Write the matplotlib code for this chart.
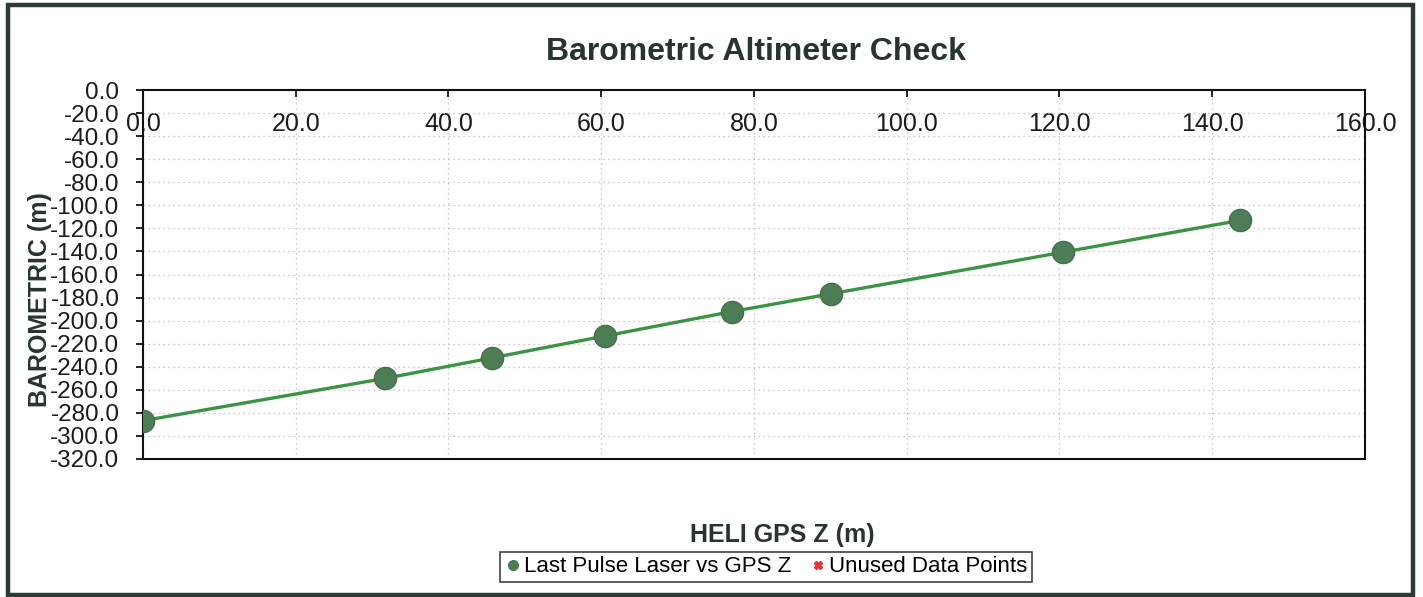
import matplotlib.pyplot as plt
from matplotlib.patches import Rectangle

# values
heli_gps_z = [0.0, 31.7, 45.7, 60.5, 77.1, 90.1, 120.5, 143.7]
barometric = [-286.8, -250.1, -232.3, -213.3, -192.2, -176.7, -140.6, -113.0]
unused_x = []
unused_y = []

x_ticks = [0, 20, 40, 60, 80, 100, 120, 140, 160]
y_ticks = list(range(0, -321, -20))

plt.rcParams['font.family'] = ['Liberation Sans', 'DejaVu Sans']

fig = plt.figure(figsize=(14.23, 5.97), dpi=100)
ax = fig.add_axes([0.1005, 0.2312, 0.8587, 0.618])

green_line = "#3a9444"
green_dot = "#4c7d55"
text_dark = "#27342f"

# series
ax.plot(heli_gps_z, barometric, color=green_line, lw=2.4, zorder=3)
ax.plot(heli_gps_z, barometric, linestyle="none", marker="o", markersize=16,
        markerfacecolor=green_dot, markeredgecolor="#466f4c",
        label="Last Pulse Laser vs GPS Z", zorder=4)
ax.plot(unused_x, unused_y, linestyle="none", marker="X", markersize=7,
        color="#e8303a", label="Unused Data Points")

ax.set_xlim(0, 160)
ax.set_ylim(-320, 0)
ax.set_xticks(x_ticks)
ax.set_xticklabels([f"{v:.1f}" for v in x_ticks])
ax.set_yticks(y_ticks)
ax.set_yticklabels([f"{v:.1f}" for v in y_ticks])

# x axis sits at the top, labels hang inside the plot
ax.xaxis.tick_top()
ax.tick_params(axis="x", direction="in", length=5, width=1.2, pad=-33,
               labelsize=18, labelcolor="#1c1c1c")
ax.tick_params(axis="y", direction="out", length=5, width=1.2, pad=12,
               labelsize=17.5, labelcolor="#1c1c1c")
for lbl in ax.get_xticklabels():
    lbl.set_clip_on(False)

ax.grid(True, color="#b4b4c0", linestyle=(0, (1, 3)), lw=0.9)
for sp in ax.spines.values():
    sp.set_color("#111111")
    sp.set_linewidth(1.5)

ax.set_ylabel("BAROMETRIC (m)", fontsize=18, fontweight="bold", color=text_dark)
ax.yaxis.set_label_coords(-0.084, 0.431)
ax.yaxis.label.set_va("center")

ax.set_xlabel("HELI GPS Z (m)", fontsize=18, fontweight="bold", color=text_dark)
ax.xaxis.set_label_position("bottom")
ax.xaxis.set_label_coords(0.523, -0.206)
ax.xaxis.label.set_va("center")

fig.text(756 / 1423, 1 - 52 / 597, "Barometric Altimeter Check", fontsize=23,
         fontweight="bold", color=text_dark, ha="center", va="center")

leg_handles = [
    plt.Line2D([], [], linestyle="none", marker="o", markersize=7,
               color=green_dot),
    plt.Line2D([], [], linestyle="none", marker="X", markersize=6,
               color="#e8303a"),
]
leg = fig.legend(leg_handles, ["Last Pulse Laser vs GPS Z", "Unused Data Points"],
                 loc="center", bbox_to_anchor=(766 / 1423, 1 - 567 / 597),
                 ncol=2, fontsize=16, frameon=True, fancybox=False,
                 edgecolor="#111111", handletextpad=0.1, columnspacing=0.8,
                 handlelength=0.8, borderpad=0.2, borderaxespad=0)
leg.get_frame().set_linewidth(1.2)

# outer chart border
fig.patches.append(Rectangle((8 / 1423, 2 / 597), 1405 / 1423, 590 / 597,
                             transform=fig.transFigure, fill=False,
                             edgecolor="#2c3b36", lw=3.2))

fig.savefig("out.png", dpi=100)
